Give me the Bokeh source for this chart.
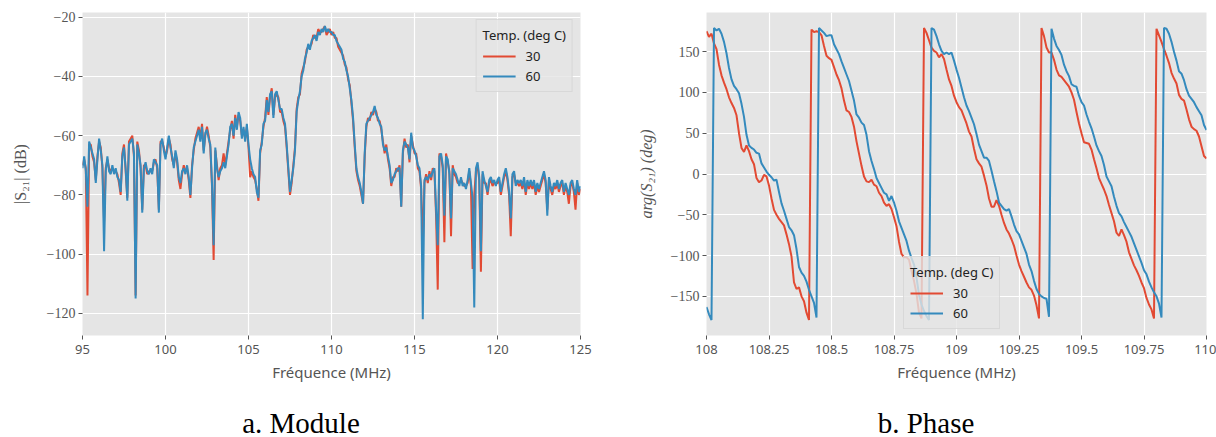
import numpy as np
from bokeh.plotting import figure
from bokeh.models import Range1d, FixedTicker, CustomJSTickFormatter, Div
from bokeh.layouts import row, column
from bokeh.embed import file_html
from bokeh.resources import INLINE

# ---------------- data ----------------
series_labels = ["30", "60"]
legend_title = "Temp. (deg C)"
captions = ["a. Module", "b. Phase"]

# |S21| (dB), 95.0 .. 125.0 MHz, step 0.1 MHz
mod_freq = [round(95 + 0.1 * i, 1) for i in range(301)]
mod_30 = [
    -70, -68, -71, -114, -63, -63, -67, -69, -75, -67,
    -62, -64, -71, -89, -71, -68, -71, -72, -71, -72,
    -72, -73, -76, -80, -66, -63, -72, -81, -62, -61,
    -60, -67, -114, -62, -65, -71, -85, -70, -70, -73,
    -72, -72, -72, -69, -68, -71, -85, -62, -62, -64,
    -67, -65, -61, -63, -68, -70, -66, -69, -75, -78,
    -73, -70, -72, -71, -75, -81, -70, -65, -61, -59,
    -57, -61, -56, -65, -60, -57, -60, -64, -77, -102,
    -65, -70, -75, -71, -70, -66, -70, -66, -62, -58,
    -55, -61, -53, -57, -53, -55, -60, -58, -61, -57,
    -64, -74, -72, -74, -75, -78, -82, -66, -62, -57,
    -54, -47, -53, -47, -44, -53, -47, -46, -47, -52,
    -52, -55, -57, -64, -72, -80, -76, -70, -64, -51,
    -47, -46, -39, -37, -35, -31, -30, -30, -29, -26,
    -27, -27, -24, -25, -25, -24, -23, -26, -25, -24,
    -26, -25, -27, -27, -30, -31, -32, -33, -36, -37,
    -41, -43, -49, -55, -64, -72, -75, -77, -80, -83,
    -67, -57, -54, -55, -52, -53, -51, -52, -55, -55,
    -58, -62, -66, -63, -68, -71, -77, -74, -74, -71,
    -72, -70, -84, -66, -61, -64, -63, -69, -60, -63,
    -66, -66, -71, -72, -78, -97, -76, -73, -76, -72,
    -75, -71, -72, -87, -112, -66, -67, -71, -96, -66,
    -69, -72, -94, -70, -73, -74, -76, -76, -75, -76,
    -77, -77, -76, -72, -77, -105, -80, -72, -70, -75,
    -106, -73, -76, -76, -80, -76, -75, -77, -76, -76,
    -76, -75, -80, -77, -74, -72, -75, -80, -94, -74,
    -73, -76, -76, -77, -76, -78, -75, -80, -76, -78,
    -76, -78, -76, -80, -77, -79, -77, -75, -73, -76,
    -85, -75, -78, -80, -77, -78, -76, -79, -77, -76,
    -80, -77, -79, -83, -77, -76, -79, -85, -76, -80,
    -78,
]
mod_60 = [
    -71, -67, -72, -84, -62, -64, -66, -68, -76, -68,
    -61, -65, -70, -99, -72, -67, -72, -73, -70, -73,
    -71, -74, -75, -79, -67, -64, -71, -82, -63, -62,
    -61, -66, -115, -63, -66, -70, -86, -71, -69, -72,
    -73, -71, -73, -68, -69, -70, -86, -63, -61, -65,
    -68, -64, -60, -64, -67, -71, -65, -68, -74, -76,
    -72, -71, -73, -70, -74, -80, -71, -64, -62, -60,
    -58, -62, -57, -66, -59, -58, -61, -63, -76, -97,
    -64, -71, -74, -72, -71, -69, -71, -67, -63, -57,
    -56, -60, -54, -58, -52, -54, -61, -57, -62, -56,
    -63, -68, -71, -73, -74, -79, -81, -65, -63, -56,
    -55, -48, -52, -46, -45, -54, -46, -45, -48, -51,
    -51, -54, -56, -63, -71, -79, -75, -71, -65, -52,
    -48, -45, -40, -38, -34, -32, -29, -31, -28, -27,
    -26, -28, -25, -26, -24, -25, -23, -25, -24, -25,
    -25, -26, -26, -28, -29, -30, -31, -34, -35, -38,
    -40, -44, -48, -54, -63, -71, -74, -76, -79, -83,
    -66, -56, -55, -54, -53, -52, -50, -53, -54, -56,
    -57, -63, -65, -64, -67, -70, -76, -75, -73, -72,
    -71, -71, -84, -65, -62, -63, -64, -68, -59, -64,
    -65, -67, -70, -71, -77, -122, -75, -74, -75, -73,
    -74, -72, -71, -85, -97, -67, -66, -70, -87, -67,
    -68, -73, -88, -71, -72, -73, -75, -77, -74, -77,
    -76, -78, -75, -71, -76, -81, -118, -71, -69, -74,
    -99, -72, -75, -77, -79, -75, -74, -76, -75, -77,
    -75, -74, -79, -76, -73, -71, -74, -79, -88, -73,
    -72, -77, -75, -76, -75, -77, -74, -79, -75, -77,
    -75, -77, -75, -79, -76, -78, -76, -74, -72, -75,
    -87, -74, -77, -79, -76, -77, -75, -78, -76, -75,
    -79, -76, -78, -80, -76, -75, -78, -80, -75, -79,
    -77,
]

# arg(S21) (deg), 108.00 .. 110.00 MHz, step 0.01 MHz
phase_freq = [round(108 + 0.01 * i, 2) for i in range(201)]
phase_30 = [
    175, 168, 172, 160, 153, 134, 121, 112, 104, 94,
    87, 81, 72, 50, 32, 27, 35, 28, 18, 12,
    -5, -10, -8, -1, -3, -14, -30, -44, -50, -55,
    -59, -63, -74, -86, -101, -133, -141, -139, -150, -156,
    -170, -179, 177, 174, 175, 174, 170, 157, 145, 142,
    140, 131, 122, 115, 105, 90, 78, 76, 70, 58,
    40, 25, 10, -3, -9, -10, -7, -13, -15, -23,
    -27, -35, -39, -37, -43, -53, -64, -83, -98, -102,
    -102, -105, -119, -131, -147, -170, -177, 179, 173, 164,
    155, 151, 149, 143, 147, 141, 128, 116, 108, 96,
    88, 82, 78, 70, 62, 52, 46, 31, 18, 13,
    9, -2, -14, -30, -40, -40, -32, -39, -50, -60,
    -68, -73, -80, -88, -100, -111, -119, -126, -133, -139,
    -142, -149, -161, -177, 179, 169, 155, 149, 149, 140,
    128, 121, 119, 115, 111, 107, 100, 91, 76, 62,
    50, 39, 38, 37, 30, 18, 7, -5, -12, -19,
    -27, -38, -48, -58, -72, -76, -68, -75, -83, -96,
    -104, -112, -118, -125, -133, -140, -152, -160, -166, -177,
    178, 170, 162, 153, 145, 136, 124, 117, 111, 97,
    92, 90, 79, 67, 58, 55, 53, 46, 34, 22,
    19,
]
phase_60 = [
    -163, -172, -179, 179, 176, 178, 172, 162, 148, 130,
    116, 108, 104, 99, 86, 70, 48, 35, 32, 30,
    26, 25, 13, 8, 3, -1, -4, -8, -7, -22,
    -36, -45, -55, -65, -69, -75, -92, -114, -121, -125,
    -132, -142, -150, -158, -176, 179, 176, 173, 169, 170,
    170, 159, 153, 147, 138, 130, 122, 114, 102, 90,
    73, 69, 63, 60, 48, 28, 16, 6, -5, -11,
    -17, -23, -25, -33, -27, -35, -45, -58, -66, -74,
    -82, -94, -103, -111, -127, -148, -160, -168, -174, -179,
    179, 177, 169, 159, 151, 147, 149, 147, 149, 139,
    128, 118, 106, 94, 84, 77, 69, 61, 49, 36,
    28, 20, 20, 16, 4, -9, -21, -35, -39, -43,
    -45, -43, -52, -62, -70, -74, -82, -90, -98, -111,
    -119, -131, -141, -147, -150, -152, -153, -175, 178, 166,
    157, 152, 146, 134, 126, 120, 110, 108, 107, 96,
    88, 84, 73, 64, 56, 46, 35, 28, 22, 11,
    -3, -9, -15, -28, -39, -48, -52, -59, -65, -71,
    -77, -85, -93, -101, -109, -118, -123, -132, -139, -145,
    -150, -159, -176, 179, 178, 172, 162, 150, 139, 126,
    123, 115, 104, 96, 92, 88, 82, 77, 72, 60,
    54,
]

mod_xticks = [95, 100, 105, 110, 115, 120, 125]
mod_yticks = [-120, -100, -80, -60, -40, -20]
phase_xticks = [108, 108.25, 108.5, 108.75, 109, 109.25, 109.5, 109.75, 110]
phase_yticks = [-150, -100, -50, 0, 50, 100, 150]

# ---------------- style ----------------
RED = "#E24A33"
BLUE = "#348ABD"
BG = "#E5E5E5"
GREY = "#555555"
SANS = "Noto Sans"
SERIF = "Liberation Serif"

FMT = "return tick < 0 ? '\u2212' + String(Math.abs(tick)) : String(tick);"


def style(p, xticks, yticks, ylabel, ylabel_standoff, ylabel_italic=False):
    p.background_fill_color = BG
    p.border_fill_color = "white"
    p.outline_line_color = None
    p.grid.grid_line_color = "white"
    p.grid.grid_line_width = 1.2
    p.xaxis.ticker = FixedTicker(ticks=xticks)
    p.yaxis.ticker = FixedTicker(ticks=yticks)
    for ax in p.axis:
        ax.axis_line_color = None
        ax.major_tick_line_color = GREY
        ax.major_tick_line_width = 1
        ax.major_tick_out = 4
        ax.major_tick_in = 0
        ax.minor_tick_line_color = None
        ax.major_label_text_color = GREY
        ax.axis_label_text_color = GREY
        ax.axis_label_text_font_style = "normal"
        ax.formatter = CustomJSTickFormatter(code=FMT)
    p.xaxis.major_label_text_font = SANS
    p.xaxis.major_label_text_font_size = "13px"
    p.xaxis.major_label_standoff = 5
    p.xaxis.axis_label = "Fréquence (MHz)"
    p.xaxis.axis_label_text_font = SANS
    p.xaxis.axis_label_text_font_size = "15px"
    p.xaxis.axis_label_standoff = 5
    p.yaxis.major_label_text_font = SERIF
    p.yaxis.major_label_text_font_size = "14px"
    p.yaxis.major_label_standoff = 3
    p.yaxis.axis_label = ylabel
    p.yaxis.axis_label_text_font = SERIF
    p.yaxis.axis_label_text_font_size = "16px"
    p.yaxis.axis_label_standoff = ylabel_standoff
    if ylabel_italic:
        p.yaxis.axis_label_text_font_style = "italic"


def style_legend(p, location, margin):
    lg = p.legend[0]
    lg.title = legend_title
    lg.location = location
    lg.margin = margin
    lg.padding = 6
    lg.spacing = 2
    lg.glyph_width = 33
    lg.glyph_height = 18
    lg.label_height = 18
    lg.label_standoff = 10
    lg.title_standoff = 3
    lg.title_text_font = SANS
    lg.title_text_font_size = "13px"
    lg.title_text_font_style = "normal"
    lg.title_text_color = "#222222"
    lg.label_text_font = SANS
    lg.label_text_font_size = "13px"
    lg.label_text_color = "#222222"
    lg.background_fill_color = BG
    lg.background_fill_alpha = 0.8
    lg.border_line_color = "#CCCCCC"
    lg.border_line_width = 1


FIG_H = 387
CAP_H = 437 - FIG_H


def caption_div(text, width, inner_left, inner_width):
    html = (
        f'<div style="margin-left:{inner_left}px;width:{inner_width}px;'
        f'text-align:center;padding-top:20px;font-family:\'{SERIF}\',serif;'
        f'font-size:29px;line-height:33px;color:black;white-space:nowrap;">{text}</div>'
    )
    return Div(text=html, width=width, height=CAP_H, margin=0)


# ---------------- left: module ----------------
p1 = figure(width=618, height=FIG_H, output_backend="svg", toolbar_location=None,
            x_range=Range1d(95, 125), y_range=Range1d(-127.5, -18.4),
            min_border_left=82, min_border_right=38, min_border_top=12, min_border_bottom=52)
p1.line(mod_freq, mod_30, line_color=RED, line_width=2, legend_label=series_labels[0])
p1.line(mod_freq, mod_60, line_color=BLUE, line_width=2, legend_label=series_labels[1])
style(p1, mod_xticks, mod_yticks, "|S\u2082\u2081| (dB)", 15)
style_legend(p1, "top_right", 7)

# ---------------- right: phase ----------------
p2 = figure(width=598, height=FIG_H, output_backend="svg", toolbar_location=None,
            x_range=Range1d(108, 110), y_range=Range1d(-198, 198),
            min_border_left=88, min_border_right=10, min_border_top=12, min_border_bottom=52)
p2.line(phase_freq, phase_30, line_color=RED, line_width=2, legend_label=series_labels[0])
p2.line(phase_freq, phase_60, line_color=BLUE, line_width=2, legend_label=series_labels[1])
style(p2, phase_xticks, phase_yticks, "arg(S\u2082\u2081) (deg)", 13, ylabel_italic=True)
style_legend(p2, (197, 6), 0)

d1 = caption_div(captions[0], 618, 0, 602)
d2 = caption_div(captions[1], 598, 18, 580)

layout = column(row(p1, p2), row(d1, d2))
with open("out.html", "w", encoding="utf-8") as f:
    f.write(file_html(layout, INLINE))
